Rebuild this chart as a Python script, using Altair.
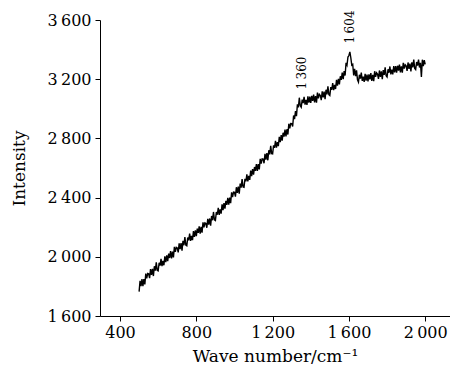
import altair as alt
import pandas as pd

# Wave numbers (cm^-1), step 5 from 500 to 2000
wave = list(range(500, 2001, 5))

intensity = [
    1765, 1838, 1801, 1849, 1802, 1850, 1813, 1886, 1854, 1887,
    1885, 1856, 1917, 1878, 1919, 1870, 1936, 1907, 1963, 1909,
    1905, 1960, 1941, 1986, 1937, 1972, 1943, 2003, 1964, 2009,
    1970, 2021, 1992, 2038, 1989, 2035, 1996, 2067, 2033, 2064,
    2060, 2030, 2091, 2051, 2092, 2042, 2108, 2078, 2134, 2079,
    2075, 2130, 2111, 2156, 2107, 2142, 2113, 2173, 2134, 2179,
    2140, 2190, 2161, 2206, 2157, 2202, 2163, 2233, 2199, 2229,
    2225, 2196, 2257, 2218, 2259, 2210, 2276, 2247, 2303, 2249,
    2245, 2302, 2284, 2331, 2283, 2320, 2292, 2354, 2316, 2363,
    2325, 2378, 2351, 2399, 2352, 2400, 2363, 2436, 2404, 2437,
    2435, 2407, 2470, 2432, 2475, 2427, 2495, 2467, 2525, 2472,
    2470, 2527, 2510, 2557, 2510, 2547, 2520, 2582, 2545, 2592,
    2555, 2607, 2580, 2627, 2580, 2627, 2590, 2662, 2630, 2662,
    2660, 2632, 2695, 2657, 2700, 2652, 2720, 2692, 2750, 2697,
    2695, 2753, 2736, 2784, 2737, 2775, 2748, 2811, 2774, 2822,
    2785, 2838, 2812, 2860, 2814, 2862, 2826, 2899, 2868, 2901,
    2900, 2880, 2955, 2930, 2985, 2950, 3030, 3010, 3075, 3020,
    3010, 3062, 3039, 3081, 3028, 3060, 3027, 3084, 3041, 3083,
    3040, 3087, 3054, 3096, 3043, 3085, 3042, 3109, 3071, 3098,
    3090, 3059, 3118, 3077, 3116, 3065, 3129, 3098, 3152, 3096,
    3090, 3146, 3128, 3174, 3126, 3162, 3134, 3195, 3157, 3203,
    3165, 3220, 3195, 3245, 3200, 3255, 3225, 3310, 3295, 3350,
    3360, 3385, 3345, 3295, 3300, 3225, 3270, 3220, 3260, 3195,
    3180, 3230, 3204, 3244, 3188, 3218, 3182, 3237, 3191, 3231,
    3185, 3232, 3199, 3241, 3188, 3230, 3187, 3254, 3216, 3243,
    3235, 3202, 3259, 3216, 3253, 3200, 3262, 3229, 3281, 3223,
    3215, 3267, 3244, 3286, 3233, 3265, 3232, 3289, 3246, 3288,
    3245, 3291, 3258, 3299, 3246, 3287, 3244, 3310, 3272, 3298,
    3290, 3256, 3313, 3269, 3306, 3252, 3314, 3280, 3332, 3273,
    3265, 3316, 3292, 3333, 3279, 3310, 3215, 3332, 3288, 3329,
    3300,
]

ann_x = [1354, 1606]
ann_y = [3242, 3553]
ann_text = ["1\u2009360", "1\u2009604"]

df = pd.DataFrame({"wave": wave, "intensity": intensity})
ann = pd.DataFrame({"x": ann_x, "y": ann_y, "t": ann_text})

FONT = "DejaVu Serif"
fmt = "replace(format(datum.value, ','), ',', '\u2009')"

x_scale = alt.Scale(domain=[295, 2130], nice=False, zero=False)
y_scale = alt.Scale(domain=[1600, 3600], nice=False, zero=False)

line = alt.Chart(df).mark_line(color="black", strokeWidth=1.4).encode(
    x=alt.X("wave:Q", scale=x_scale,
            axis=alt.Axis(title="Wave number/cm\u207b\u00b9", values=[400, 800, 1200, 1600, 2000],
                          labelExpr=fmt, grid=False, tickSize=5, labelPadding=3,
                          titleY=45, titleBaseline="alphabetic")),
    y=alt.Y("intensity:Q", scale=y_scale,
            axis=alt.Axis(title="Intensity", values=[1600, 2000, 2400, 2800, 3200, 3600],
                          labelExpr=fmt, grid=False, tickSize=5, labelPadding=4,
                          titleX=-81, titleY=148, titleBaseline="middle", titleAngle=270)),
)

text = alt.Chart(ann).mark_text(angle=270, font=FONT, fontSize=12, color="black",
                                align="center", baseline="middle").encode(
    x=alt.X("x:Q", scale=x_scale),
    y=alt.Y("y:Q", scale=y_scale),
    text="t:N",
)

chart = (line + text).properties(
    width=350, height=296,
    autosize=alt.AutoSizeParams(type="none"),
    padding={"left": 92, "top": 12, "right": 0, "bottom": 52},
).configure_view(stroke=None).configure_axis(
    labelFont=FONT, titleFont=FONT, labelFontSize=16, titleFontSize=17,
    titleFontWeight="normal", labelColor="black", titleColor="black",
    domainColor="black", tickColor="black", domainWidth=1, tickWidth=1,
)

chart.save("out.html", embed_options={"renderer": "svg", "actions": False})
